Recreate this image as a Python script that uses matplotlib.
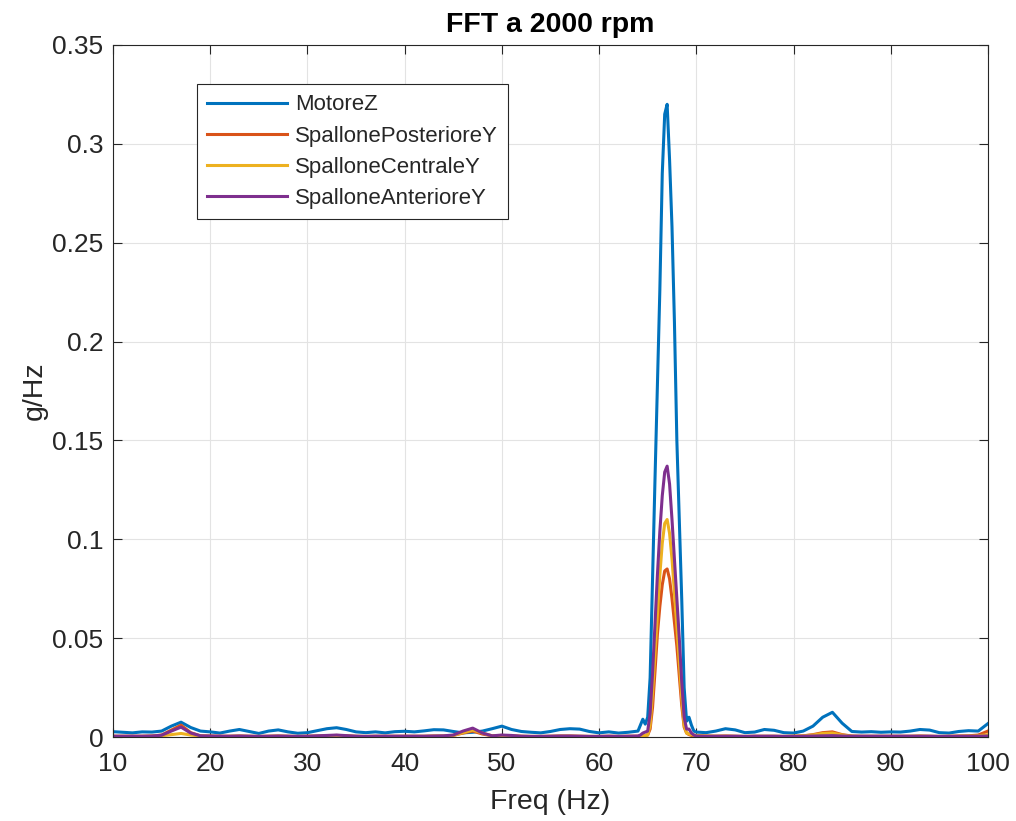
import numpy as np
import matplotlib
matplotlib.use("Agg")
import matplotlib.pyplot as plt
from matplotlib.ticker import FuncFormatter

# frequency grid (Hz): 1 Hz steps away from the peak, 0.25 Hz around it
freq = np.concatenate([np.arange(10, 64, 1.0),
                       np.arange(64, 70.01, 0.25),
                       np.arange(71, 100.01, 1.0)])

# MotoreZ
motore_z = [
    # 10..63
    0.0027, 0.0024, 0.0021, 0.0026, 0.0025, 0.0030, 0.0055, 0.0075, 0.0048, 0.0030,
    0.0026, 0.0020, 0.0030, 0.0038, 0.0028, 0.0018, 0.0030, 0.0036, 0.0026, 0.0019,
    0.0022, 0.0032, 0.0042, 0.0047, 0.0038, 0.0026, 0.0022, 0.0026, 0.0021, 0.0027,
    0.0029, 0.0026, 0.0031, 0.0037, 0.0036, 0.0028, 0.0021, 0.0024, 0.0030, 0.0042,
    0.0055, 0.0038, 0.0028, 0.0024, 0.0021, 0.0028, 0.0038, 0.0042, 0.0040, 0.0028,
    0.0021, 0.0026, 0.0020, 0.0024,
    # 64..70 step 0.25
    0.0030, 0.0060, 0.0090, 0.0065, 0.0100, 0.0300, 0.0800, 0.1300, 0.1780, 0.2260,
    0.2850, 0.3150, 0.3200, 0.2920, 0.2580, 0.2100, 0.1500, 0.1100, 0.0700, 0.0250,
    0.0080, 0.0100, 0.0060, 0.0030, 0.0025,
    # 71..100
    0.0022, 0.0030, 0.0042, 0.0036, 0.0022, 0.0025, 0.0038, 0.0034, 0.0022, 0.0020,
    0.0030, 0.0055, 0.0100, 0.0125, 0.0070, 0.0028, 0.0025, 0.0027, 0.0024, 0.0026,
    0.0025, 0.0030, 0.0038, 0.0035, 0.0022, 0.0020, 0.0028, 0.0032, 0.0030, 0.0068,
]

# SpallonePosterioreY
post_y = [
    0.0004, 0.0004, 0.0004, 0.0004, 0.0005, 0.0010, 0.0035, 0.0060, 0.0022, 0.0006,
    0.0005, 0.0004, 0.0004, 0.0005, 0.0004, 0.0003, 0.0004, 0.0005, 0.0004, 0.0003,
    0.0004, 0.0005, 0.0006, 0.0008, 0.0006, 0.0004, 0.0003, 0.0004, 0.0004, 0.0004,
    0.0004, 0.0004, 0.0004, 0.0005, 0.0005, 0.0008, 0.0020, 0.0030, 0.0015, 0.0006,
    0.0008, 0.0006, 0.0004, 0.0003, 0.0003, 0.0004, 0.0005, 0.0005, 0.0004, 0.0003,
    0.0003, 0.0004, 0.0003, 0.0004,
    0.0004, 0.0005, 0.0008, 0.0008, 0.0010, 0.0040, 0.0150, 0.0330, 0.0520, 0.0660,
    0.0770, 0.0840, 0.0850, 0.0800, 0.0700, 0.0580, 0.0460, 0.0310, 0.0160, 0.0050,
    0.0020, 0.0012, 0.0008, 0.0005, 0.0004,
    0.0004, 0.0004, 0.0005, 0.0004, 0.0003, 0.0004, 0.0004, 0.0004, 0.0003, 0.0004,
    0.0006, 0.0012, 0.0022, 0.0026, 0.0012, 0.0005, 0.0004, 0.0004, 0.0004, 0.0004,
    0.0004, 0.0004, 0.0005, 0.0004, 0.0003, 0.0004, 0.0005, 0.0006, 0.0010, 0.0030,
]

# SpalloneCentraleY
centr_y = [
    0.0003, 0.0003, 0.0003, 0.0003, 0.0004, 0.0006, 0.0012, 0.0018, 0.0010, 0.0005,
    0.0004, 0.0003, 0.0003, 0.0004, 0.0003, 0.0003, 0.0003, 0.0004, 0.0003, 0.0003,
    0.0003, 0.0004, 0.0004, 0.0005, 0.0004, 0.0003, 0.0003, 0.0003, 0.0003, 0.0003,
    0.0003, 0.0003, 0.0003, 0.0004, 0.0004, 0.0008, 0.0022, 0.0035, 0.0020, 0.0006,
    0.0006, 0.0005, 0.0003, 0.0003, 0.0003, 0.0003, 0.0004, 0.0004, 0.0003, 0.0003,
    0.0003, 0.0003, 0.0003, 0.0003,
    0.0003, 0.0004, 0.0006, 0.0008, 0.0010, 0.0060, 0.0220, 0.0420, 0.0620, 0.0820,
    0.0980, 0.1080, 0.1100, 0.1030, 0.0900, 0.0730, 0.0560, 0.0380, 0.0200, 0.0060,
    0.0020, 0.0015, 0.0012, 0.0010, 0.0008,
    0.0006, 0.0004, 0.0004, 0.0003, 0.0003, 0.0003, 0.0003, 0.0003, 0.0003, 0.0004,
    0.0006, 0.0010, 0.0018, 0.0020, 0.0010, 0.0004, 0.0003, 0.0003, 0.0003, 0.0003,
    0.0003, 0.0003, 0.0004, 0.0003, 0.0003, 0.0003, 0.0004, 0.0005, 0.0006, 0.0012,
]

# SpalloneAnterioreY
ant_y = [
    0.0004, 0.0004, 0.0004, 0.0004, 0.0005, 0.0009, 0.0030, 0.0050, 0.0020, 0.0006,
    0.0005, 0.0004, 0.0004, 0.0005, 0.0004, 0.0003, 0.0004, 0.0005, 0.0004, 0.0003,
    0.0004, 0.0006, 0.0008, 0.0010, 0.0007, 0.0004, 0.0003, 0.0004, 0.0004, 0.0004,
    0.0004, 0.0004, 0.0004, 0.0005, 0.0006, 0.0010, 0.0030, 0.0045, 0.0020, 0.0006,
    0.0010, 0.0008, 0.0004, 0.0003, 0.0003, 0.0004, 0.0005, 0.0005, 0.0004, 0.0003,
    0.0003, 0.0004, 0.0003, 0.0004,
    0.0005, 0.0010, 0.0020, 0.0025, 0.0030, 0.0120, 0.0320, 0.0570, 0.0820, 0.1040,
    0.1220, 0.1340, 0.1370, 0.1280, 0.1100, 0.0900, 0.0700, 0.0500, 0.0280, 0.0100,
    0.0040, 0.0040, 0.0020, 0.0010, 0.0005,
    0.0004, 0.0004, 0.0004, 0.0004, 0.0003, 0.0004, 0.0004, 0.0004, 0.0003, 0.0003,
    0.0004, 0.0005, 0.0006, 0.0007, 0.0005, 0.0004, 0.0004, 0.0004, 0.0004, 0.0004,
    0.0004, 0.0004, 0.0004, 0.0004, 0.0003, 0.0003, 0.0004, 0.0004, 0.0004, 0.0005,
]

labels = ["MotoreZ", "SpallonePosterioreY", "SpalloneCentraleY", "SpalloneAnterioreY"]
colors = ["#0072BD", "#D95319", "#EDB120", "#7E2F8E"]

plt.rcParams["font.family"] = ["Liberation Sans", "DejaVu Sans"]
txt = "#262626"

fig = plt.figure(figsize=(10.16, 8.21), dpi=100)
ax = fig.add_axes([0.1112, 0.1023, 0.8612, 0.8429])

for y, lab, c in zip([motore_z, post_y, centr_y, ant_y], labels, colors):
    ax.plot(freq, y, color=c, lw=2.2, label=lab)

ax.set_xlim(10, 100)
ax.set_ylim(0, 0.35)
ax.set_xticks(np.arange(10, 101, 10))
ax.set_yticks(np.arange(0, 0.351, 0.05))
ax.yaxis.set_major_formatter(FuncFormatter(lambda v, p: "%g" % round(v, 2)))
ax.grid(True, color="#e3e3e3", lw=0.8)
ax.set_axisbelow(True)
ax.tick_params(direction="in", length=6.3, width=0.8, colors=txt,
               labelsize=19, top=True, right=True, pad=7)
ax.tick_params(axis="x", pad=11)
for s in ax.spines.values():
    s.set_color(txt)
    s.set_linewidth(0.8)

ax.set_xlabel("Freq (Hz)", fontsize=20.5, color=txt, labelpad=9)
ax.set_ylabel("g/Hz", fontsize=20.5, color=txt, labelpad=3)
ax.set_title("FFT a 2000 rpm", fontsize=20.5, fontweight="bold", pad=9)

leg = ax.legend(loc="upper left", bbox_to_anchor=(0.096, 0.943), fontsize=16,
                handlelength=3.6, handletextpad=0.35, labelspacing=0.46,
                borderpad=0.45, borderaxespad=0, fancybox=False, framealpha=1)
leg.get_frame().set_edgecolor(txt)
leg.get_frame().set_linewidth(0.8)
for t in leg.get_texts():
    t.set_color(txt)

fig.savefig("out.png", dpi=100)
